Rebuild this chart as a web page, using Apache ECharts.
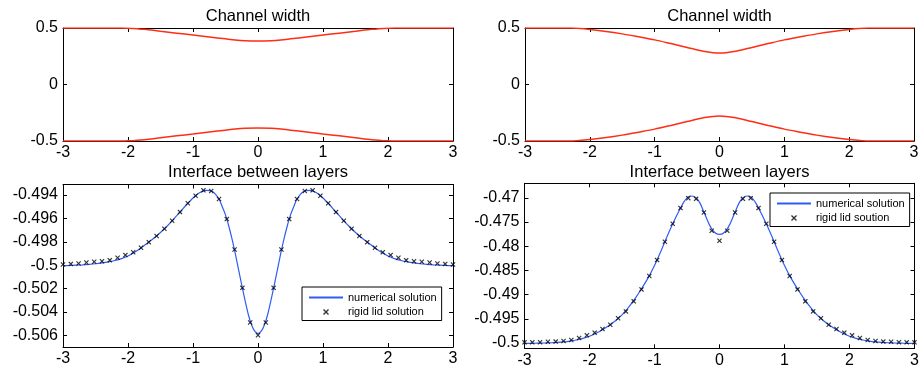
<!DOCTYPE html>
<html><head><meta charset="utf-8">
<script src="https://cdn.jsdelivr.net/npm/echarts@6/dist/echarts.min.js"></script>
<style>html,body{margin:0;padding:0;background:#fff}#c{width:923px;height:369px}</style>
</head><body><div id="c"></div>
<script>
// ---------- tick values and labels ----------
const xTicks = [-3, -2, -1, 0, 1, 2, 3];
const xTickLabels = ['-3', '-2', '-1', '0', '1', '2', '3'];
const widthTicks = [-0.5, 0, 0.5];
const widthTickLabels = ['-0.5', '0', '0.5'];
const interfaceTicksA = [-0.506, -0.504, -0.502, -0.5, -0.498, -0.496, -0.494];
const interfaceTickLabelsA = ['-0.506', '-0.504', '-0.502', '-0.5', '-0.498', '-0.496', '-0.494'];
const interfaceTicksB = [-0.5, -0.495, -0.49, -0.485, -0.48, -0.475, -0.47];
const interfaceTickLabelsB = ['-0.5', '-0.495', '-0.49', '-0.485', '-0.48', '-0.475', '-0.47'];

// ---------- titles / legend names ----------
const titleTop = 'Channel width';
const titleBottom = 'Interface between layers';
const nameNumerical = 'numerical solution';
const nameRigidA = 'rigid lid solution';
const nameRigidB = 'rigid lid soution';

// ---------- channel width (top panels) ----------
const channelXA = [-3, -2.1, -2, -1.75, -1.5, -1.25, -1, -0.75, -0.5, -0.35, -0.2, 0, 0.2, 0.35, 0.5, 0.75, 1, 1.25, 1.5, 1.75, 2, 2.1, 3];
const channelUpperA = [0.5, 0.5, 0.4985, 0.488, 0.471, 0.4545, 0.438, 0.421, 0.404, 0.394, 0.388, 0.386, 0.388, 0.394, 0.404, 0.421, 0.438, 0.4545, 0.471, 0.488, 0.4985, 0.5, 0.5];
const channelLowerA = [-0.5, -0.5, -0.4985, -0.488, -0.471, -0.4545, -0.438, -0.421, -0.404, -0.394, -0.388, -0.386, -0.388, -0.394, -0.404, -0.421, -0.438, -0.4545, -0.471, -0.488, -0.4985, -0.5, -0.5];

const channelXB = [-3, -2.3, -2.2, -2, -1.75, -1.5, -1.25, -1, -0.75, -0.5, -0.25, 0, 0.25, 0.5, 0.75, 1, 1.25, 1.5, 1.75, 2, 2.2, 2.3, 3];
const channelUpperB = [0.5, 0.5, 0.497, 0.487, 0.47, 0.448, 0.422, 0.395, 0.362, 0.328, 0.295, 0.278, 0.295, 0.328, 0.362, 0.395, 0.422, 0.448, 0.47, 0.487, 0.497, 0.5, 0.5];
const channelLowerB = [-0.5, -0.5, -0.497, -0.487, -0.47, -0.448, -0.422, -0.395, -0.362, -0.328, -0.295, -0.278, -0.295, -0.328, -0.362, -0.395, -0.422, -0.448, -0.47, -0.487, -0.497, -0.5, -0.5];

// ---------- interface (bottom panels): numerical solution ----------
const curveX = [-3, -2.9, -2.8, -2.7, -2.6, -2.5, -2.4, -2.3, -2.2, -2.1, -2, -1.9, -1.8, -1.7, -1.6, -1.5, -1.4, -1.3, -1.2, -1.1, -1, -0.9, -0.8, -0.7, -0.6,
  -0.55, -0.5, -0.45, -0.4, -0.35, -0.3, -0.25, -0.2, -0.15, -0.1, -0.05, 0, 0.05, 0.1, 0.15, 0.2, 0.25, 0.3, 0.35, 0.4, 0.45, 0.5, 0.55,
  0.6, 0.7, 0.8, 0.9, 1, 1.1, 1.2, 1.3, 1.4, 1.5, 1.6, 1.7, 1.8, 1.9, 2, 2.1, 2.2, 2.3, 2.4, 2.5, 2.6, 2.7, 2.8, 2.9, 3];
const numericalA = [-0.50005, -0.50003, -0.50000, -0.49997, -0.49993, -0.49988, -0.49981, -0.49972, -0.49960, -0.49944, -0.49922, -0.49890, -0.49853, -0.49810, -0.49767, -0.49720, -0.49667, -0.49608, -0.49546, -0.49483, -0.49425, -0.49380, -0.49360, -0.49370, -0.49434,
  -0.49500, -0.49570, -0.49665, -0.49775, -0.49900, -0.50035, -0.50170, -0.50300, -0.50420, -0.50510, -0.50565, -0.50585, -0.50565, -0.50510, -0.50420, -0.50300, -0.50170, -0.50035, -0.49900, -0.49775, -0.49665, -0.49570, -0.49500,
  -0.49434, -0.49370, -0.49360, -0.49380, -0.49425, -0.49483, -0.49546, -0.49608, -0.49667, -0.49720, -0.49767, -0.49810, -0.49853, -0.49890, -0.49922, -0.49944, -0.49960, -0.49972, -0.49981, -0.49988, -0.49993, -0.49997, -0.50000, -0.50003, -0.50005];
const numericalB = [-0.50010, -0.50008, -0.50004, -0.50000, -0.49995, -0.49988, -0.49978, -0.49962, -0.49938, -0.49905, -0.49862, -0.49800, -0.49725, -0.49640, -0.49540, -0.49420, -0.49265, -0.49085, -0.48880, -0.48660, -0.48400, -0.48100, -0.47780, -0.47480, -0.47210,
  -0.47090, -0.47000, -0.46962, -0.46968, -0.47010, -0.47110, -0.47260, -0.47420, -0.47570, -0.47680, -0.47740, -0.47755, -0.47740, -0.47680, -0.47570, -0.47420, -0.47260, -0.47110, -0.47010, -0.46968, -0.46962, -0.47000, -0.47090,
  -0.47210, -0.47480, -0.47780, -0.48100, -0.48400, -0.48660, -0.48880, -0.49085, -0.49265, -0.49420, -0.49540, -0.49640, -0.49725, -0.49800, -0.49862, -0.49905, -0.49938, -0.49962, -0.49978, -0.49988, -0.49995, -0.50000, -0.50004, -0.50008, -0.50010];

// ---------- interface (bottom panels): rigid lid solution ----------
const rigidX = [-3, -2.88, -2.76, -2.64, -2.52, -2.4, -2.28, -2.16, -2.04, -1.92, -1.8, -1.68, -1.56, -1.44, -1.32, -1.2, -1.08, -0.96, -0.84, -0.72, -0.6, -0.48, -0.36, -0.24, -0.12,
  0, 0.12, 0.24, 0.36, 0.48, 0.6, 0.72, 0.84, 0.96, 1.08, 1.2, 1.32, 1.44, 1.56, 1.68, 1.8, 1.92, 2.04, 2.16, 2.28, 2.4, 2.52, 2.64, 2.76, 2.88, 3];
const rigidA = [-0.49994, -0.49989, -0.49986, -0.49977, -0.49971, -0.49966, -0.49957, -0.49937, -0.49914, -0.49889, -0.49851, -0.49803, -0.49751, -0.49689, -0.49620, -0.49546, -0.49471, -0.49406, -0.49360, -0.49366, -0.49434, -0.49606, -0.49866, -0.50194, -0.50491,
  -0.50600, -0.50491, -0.50194, -0.49866, -0.49606, -0.49434, -0.49366, -0.49360, -0.49406, -0.49471, -0.49546, -0.49620, -0.49689, -0.49751, -0.49803, -0.49851, -0.49889, -0.49914, -0.49937, -0.49957, -0.49966, -0.49971, -0.49977, -0.49986, -0.49989, -0.49994];
const rigidB = [-0.49987, -0.49987, -0.49985, -0.49975, -0.49972, -0.49960, -0.49939, -0.49897, -0.49842, -0.49787, -0.49712, -0.49622, -0.49490, -0.49347, -0.49140, -0.48893, -0.48617, -0.48287, -0.47908, -0.47537, -0.47213, -0.47007, -0.47021, -0.47303, -0.47681,
  -0.47888, -0.47681, -0.47303, -0.47021, -0.47007, -0.47213, -0.47537, -0.47908, -0.48287, -0.48617, -0.48893, -0.49140, -0.49347, -0.49490, -0.49622, -0.49712, -0.49787, -0.49842, -0.49897, -0.49939, -0.49960, -0.49972, -0.49975, -0.49985, -0.49987, -0.49987];

// ---------- styling ----------
const FONT = '"Liberation Sans", Arial, Helvetica, sans-serif';
const RED = '#ff2d14';
const BLUE = '#2f5cf5';
const TICK_FS = 16;
const CROSS = 'path://M0,1.6L1.6,0L5,3.4L8.4,0L10,1.6L6.6,5L10,8.4L8.4,10L5,6.6L1.6,10L0,8.4L3.4,5Z';

function pairs(xs, ys) { return xs.map((x, i) => [x, ys[i]]); }
function labelFor(ticks, labels) {
  return function (v) {
    const i = ticks.findIndex(t => Math.abs(t - v) < 1e-9);
    return i >= 0 ? labels[i] : '';
  };
}

const grids = [
  { left: 63, top: 28, width: 390, height: 113 },
  { left: 525, top: 28, width: 389, height: 113 },
  { left: 63, top: 184.5, width: 390, height: 162.5 },
  { left: 524.5, top: 183.3, width: 390, height: 165 }
];
const yRanges = [
  { min: -0.5, max: 0.5, ticks: widthTicks, labels: widthTickLabels },
  { min: -0.5, max: 0.5, ticks: widthTicks, labels: widthTickLabels },
  { min: -0.507, max: -0.4931, ticks: interfaceTicksA, labels: interfaceTickLabelsA },
  { min: -0.5011, max: -0.467, ticks: interfaceTicksB, labels: interfaceTickLabelsB }
];

const lineAxis = { show: true, onZero: false, lineStyle: { color: '#000', width: 1 } };
const tickStyle = { show: true, inside: true, length: 4, lineStyle: { color: '#000', width: 1 } };
const xAxes = [], yAxes = [];
grids.forEach((g, gi) => {
  xAxes.push({
    type: 'value', gridIndex: gi, position: 'bottom', min: -3, max: 3, interval: 1,
    axisLine: lineAxis, axisTick: tickStyle, splitLine: { show: false },
    axisLabel: { color: '#000', fontSize: TICK_FS, fontFamily: FONT, margin: 4, formatter: labelFor(xTicks, xTickLabels) }
  });
  xAxes.push({
    type: 'value', gridIndex: gi, position: 'top', min: -3, max: 3, interval: 1,
    axisLine: lineAxis, axisTick: tickStyle, splitLine: { show: false }, axisLabel: { show: false }
  });
  const r = yRanges[gi];
  yAxes.push({
    type: 'value', gridIndex: gi, position: 'left', min: r.min, max: r.max,
    axisLine: lineAxis, axisTick: Object.assign({ customValues: r.ticks }, tickStyle), splitLine: { show: false },
    axisLabel: { color: '#000', fontSize: TICK_FS, fontFamily: FONT, margin: 5, customValues: r.ticks, formatter: labelFor(r.ticks, r.labels) }
  });
  yAxes.push({
    type: 'value', gridIndex: gi, position: 'right', min: r.min, max: r.max,
    axisLine: lineAxis, axisTick: Object.assign({ customValues: r.ticks }, tickStyle), splitLine: { show: false },
    axisLabel: { show: false, customValues: r.ticks }
  });
});

function redLine(gi, xs, ys) {
  return { type: 'line', xAxisIndex: gi * 2, yAxisIndex: gi * 2, data: pairs(xs, ys), symbol: 'none', smooth: 0.3,
    lineStyle: { color: RED, width: 1.5 }, itemStyle: { color: RED }, silent: true, z: 3 };
}

const hiddenDot = { color: 'rgba(0,0,0,0)', borderColor: 'rgba(0,0,0,0)', borderWidth: 0 };
function legendBox(left, top, rigidName) {
  return { data: [{ name: nameNumerical, itemStyle: hiddenDot }, { name: rigidName }], orient: 'vertical', left: left, top: top, padding: [5, 5, 3, 6],
    itemWidth: 34, itemHeight: 6, itemGap: 3.5, borderColor: '#000', borderWidth: 1, backgroundColor: '#fff',
    selectedMode: false, textStyle: { fontSize: 11, color: '#000', fontFamily: FONT } };
}

const option = {
  animation: false,
  backgroundColor: '#fff',
  title: [
    { text: titleTop, left: 258, top: 8, textAlign: 'center', padding: 0, textStyle: { fontSize: 16.5, fontWeight: 'normal', color: '#000', fontFamily: FONT } },
    { text: titleTop, left: 719.5, top: 8, textAlign: 'center', padding: 0, textStyle: { fontSize: 16.5, fontWeight: 'normal', color: '#000', fontFamily: FONT } },
    { text: titleBottom, left: 258, top: 163.5, textAlign: 'center', padding: 0, textStyle: { fontSize: 16.5, fontWeight: 'normal', color: '#000', fontFamily: FONT } },
    { text: titleBottom, left: 719.5, top: 163.5, textAlign: 'center', padding: 0, textStyle: { fontSize: 16.5, fontWeight: 'normal', color: '#000', fontFamily: FONT } }
  ],
  legend: [legendBox(302, 287, nameRigidA), legendBox(770, 193, nameRigidB)],
  grid: grids.map(g => Object.assign({ outerBoundsMode: 'none', containLabel: false, show: false }, g)),
  xAxis: xAxes,
  yAxis: yAxes,
  series: [
    redLine(0, channelXA, channelUpperA),
    redLine(0, channelXA, channelLowerA),
    redLine(1, channelXB, channelUpperB),
    redLine(1, channelXB, channelLowerB),
    { name: nameNumerical, type: 'line', xAxisIndex: 4, yAxisIndex: 4, data: pairs(curveX, numericalA), symbol: 'none', smooth: 0.3,
      lineStyle: { color: BLUE, width: 1.2 }, itemStyle: { color: BLUE }, z: 3 },
    { name: nameRigidA, type: 'scatter', xAxisIndex: 4, yAxisIndex: 4, data: pairs(rigidX, rigidA), symbol: CROSS, symbolSize: 5,
      symbolKeepAspect: true, clip: false, itemStyle: { color: '#000' }, z: 4 },
    { name: nameNumerical, type: 'line', xAxisIndex: 6, yAxisIndex: 6, data: pairs(curveX, numericalB), symbol: 'none', smooth: 0.3,
      lineStyle: { color: BLUE, width: 1.2 }, itemStyle: { color: BLUE }, z: 3 },
    { name: nameRigidB, type: 'scatter', xAxisIndex: 6, yAxisIndex: 6, data: pairs(rigidX, rigidB), symbol: CROSS, symbolSize: 5,
      symbolKeepAspect: true, clip: false, itemStyle: { color: '#000' }, z: 4 }
  ]
};

const chart = echarts.init(document.getElementById('c'), null, { renderer: 'canvas' });
chart.setOption(option);
</script>
</body></html>
